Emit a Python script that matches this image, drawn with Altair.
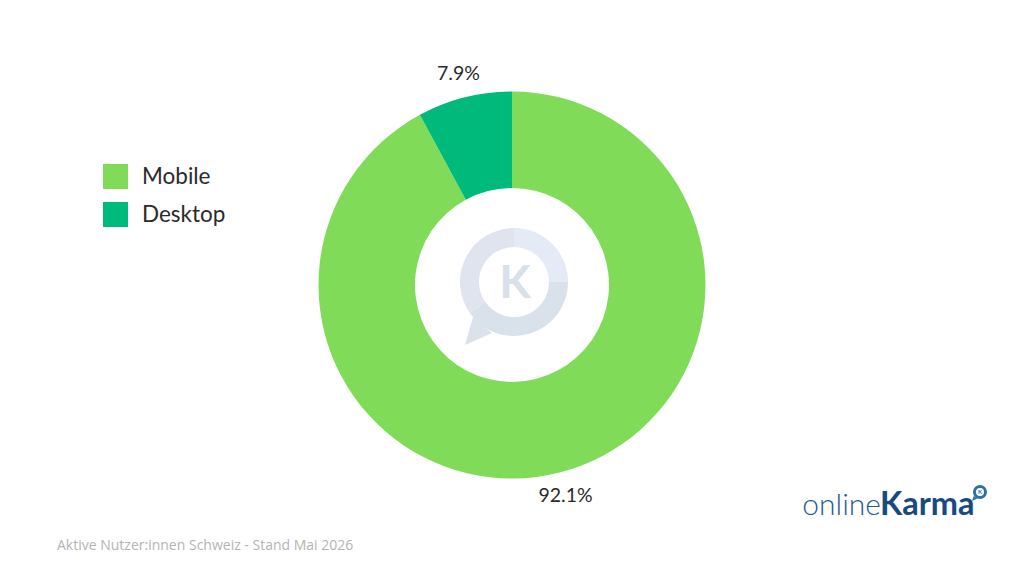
import altair as alt
import pandas as pd

categories = ["Mobile", "Desktop"]
shares = [92.1, 7.9]
share_labels = ["92.1%", "7.9%"]
colors = ["#7FDB58", "#00BA7C"]

mark_parts = ["a", "b", "c"]
mark_sizes = [90, 145, 125]
mark_colors = ["#E4EAF6", "#D9E1EA", "#E0E4EE"]

source_note = "Aktive Nutzer:innen Schweiz - Stand Mai 2026"
brand_light = "online"
brand_bold = "Karma"

W, H = 1008, 560
CX, CY = 504, 277


def px(x, y):
    return dict(x=alt.value(x - 8), y=alt.value(y - 8))


df = pd.DataFrame({"cat": categories, "share": shares, "label": share_labels, "ord": range(len(categories))})
wm = pd.DataFrame({"part": mark_parts, "size": mark_sizes, "ord": range(len(mark_parts))})
one = pd.DataFrame({"k": [0]})

theta = alt.Theta("share:Q", stack=True)
center = dict(x=alt.value(CX), y=alt.value(CY))

donut = alt.Chart(df).mark_arc(outerRadius=193.5, innerRadius=97).encode(
    theta=theta,
    order=alt.Order("ord:Q"),
    color=alt.Color(
        "cat:N",
        scale=alt.Scale(domain=categories, range=colors),
        legend=alt.Legend(
            title=None,
            orient="none",
            legendX=95,
            legendY=156,
            symbolType="square",
            symbolSize=625,
            symbolStrokeWidth=0,
            symbolOpacity=1,
            labelFont="Lato",
            labelFontSize=22.5,
            labelColor="#2A2A2A",
            labelOffset=14,
            rowPadding=13,
        ),
    ),
    **center,
)

labels = alt.Chart(df).mark_text(radius=218, font="Lato", fontSize=19.5, color="#2A2A2A").encode(
    theta=theta, order=alt.Order("ord:Q"), text="label:N", **center
)

ring = alt.Chart(wm).mark_arc(outerRadius=54, innerRadius=35).encode(
    theta=alt.Theta("size:Q", stack=True),
    order=alt.Order("ord:Q"),
    color=alt.Color("part:N", scale=alt.Scale(domain=mark_parts, range=mark_colors), legend=None),
    **px(514, 282),
)

tail = alt.Chart(one).mark_point(
    shape="M -0.93 1 L -0.4 -0.87 L 0.87 0.2 Z", size=900, filled=True, opacity=1, color="#DBE2EB"
).encode(**px(479, 330))

k_big = alt.Chart(one).mark_text(
    text="K", font="Lato", fontWeight="bold", fontSize=46, color="#D9E0EA", align="center", baseline="middle"
).encode(**px(515, 284))

note = alt.Chart(one).mark_text(
    text=source_note, font="Open Sans", fontSize=14, color="#B4B4B4", align="left", baseline="middle"
).encode(**px(57, 546))

logo_a = alt.Chart(one).mark_text(
    text=brand_light, font="Lato", fontWeight=300, fontSize=30, color="#1F5C94", align="right", baseline="alphabetic"
).encode(**px(881, 515))

logo_b = alt.Chart(one).mark_text(
    text=brand_bold, font="Lato", fontWeight="bold", fontSize=32.5, color="#174A80", align="left", baseline="alphabetic"
).encode(**px(880, 515))

logo_ring = alt.Chart(one).mark_arc(outerRadius=7, innerRadius=4, color="#2F6FA6", theta=0, theta2=6.2832).encode(
    **px(980, 492)
)

logo_tail = alt.Chart(one).mark_point(
    shape="M -1 1 L -0.4 -0.7 L 0.8 0.2 Z", size=36, filled=True, opacity=1, color="#2F6FA6"
).encode(**px(975, 498))

logo_k = alt.Chart(one).mark_text(
    text="K", font="Lato", fontWeight="bold", fontSize=6, color="#2F6FA6", align="center", baseline="middle"
).encode(**px(980, 492))

chart = (
    alt.layer(donut, labels, ring, tail, k_big, note, logo_a, logo_b, logo_ring, logo_tail, logo_k)
    .resolve_scale(theta="independent", color="independent")
    .properties(width=W, height=H, padding=0, autosize=alt.AutoSizeParams(type="none"), background="white")
    .configure_view(stroke=None)
)

chart.save("out.html", embed_options={"renderer": "svg", "actions": False})
